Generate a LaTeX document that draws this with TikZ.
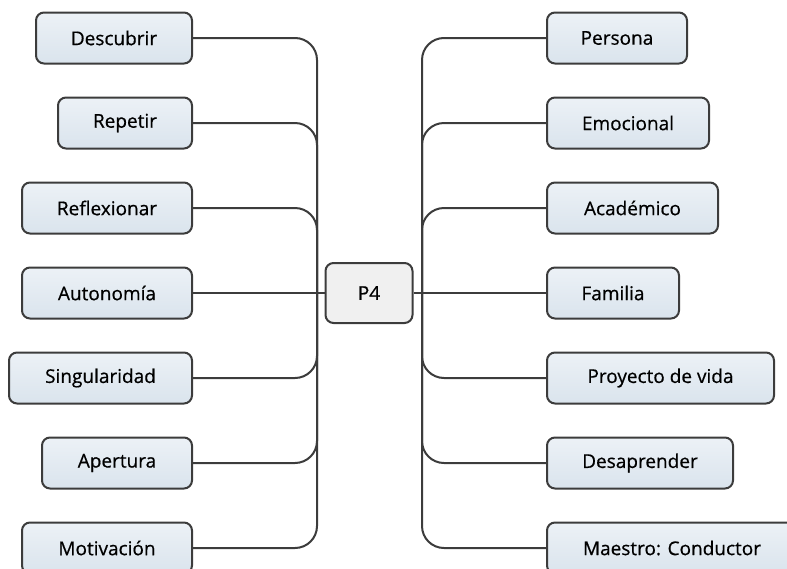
\documentclass[tikz,border=0pt]{standalone}
\usepackage{fontspec}
\setmainfont{Open Sans}
\newfontfamily\leaffont[FakeBold=0.6]{Open Sans}
\definecolor{leaftop}{RGB}{236,241,246}
\definecolor{leafbot}{RGB}{218,228,237}
\definecolor{edgegray}{RGB}{60,60,60}
\newcommand{\shadep}{gray!12}
\tikzset{every path/.style={line width=2pt},
  leaf/.style={draw=edgegray, rounded corners=8pt, top color=leaftop, bottom color=leafbot,
    minimum height=51pt, inner sep=0pt, font=\fontsize{19}{22}\leaffont},
  lleaf/.style={leaf, anchor=east},
  rleaf/.style={leaf, anchor=west},
  branch/.style={draw=edgegray, rounded corners=22pt}}

\begin{document}
\begin{tikzpicture}[x=1pt,y=-1pt]
\useasboundingbox (0,0) rectangle (787,568);
% left side
\node[lleaf, minimum width=156pt] (descubrir) at (193,38) {Descubrir};
\node[lleaf, minimum width=134pt] (repetir) at (193,123) {Repetir};
\node[lleaf, minimum width=170pt] (reflexionar) at (193,208) {Reflexionar};
\node[lleaf, minimum width=170pt] (autonomia) at (193,293) {Autonomía};
\node[lleaf, minimum width=183pt] (singularidad) at (193,378) {Singularidad};
\node[lleaf, minimum width=150pt] (apertura) at (193,463) {Apertura};
\node[lleaf, minimum width=170pt] (motivacion) at (193,548) {Motivación};
% right side
\node[rleaf, minimum width=140pt] (persona) at (546,38) {Persona};
\node[rleaf, minimum width=162pt] (emocional) at (546,123) {Emocional};
\node[rleaf, minimum width=171pt] (academico) at (546,208) {Académico};
\node[rleaf, minimum width=132pt] (familia) at (546,293) {Familia};
\node[rleaf, minimum width=227pt] (proyecto) at (546,378) {Proyecto de vida};
\node[rleaf, minimum width=186pt] (desaprender) at (546,463) {Desaprender};
\node[rleaf, minimum width=250pt] (maestro) at (546,548) {Maestro: Conductor};
% centre
\node[draw=edgegray, rounded corners=8pt, fill=\shadep, minimum width=87pt, minimum height=60pt,
  inner sep=0pt, font=\fontsize{19}{22}\leaffont] (p4) at (369,293) {P4};
\coordinate (lt) at (317,293);
\coordinate (rt) at (422,293);

\draw[branch] (descubrir.east) -| (lt);
\draw[branch] (repetir.east) -| (lt);
\draw[branch] (reflexionar.east) -| (lt);
\draw[branch] (singularidad.east) -| (lt);
\draw[branch] (apertura.east) -| (lt);
\draw[branch] (motivacion.east) -| (lt);
\draw[branch] (autonomia.east) -- (p4.west);

\draw[branch] (persona.west) -| (rt);
\draw[branch] (emocional.west) -| (rt);
\draw[branch] (academico.west) -| (rt);
\draw[branch] (proyecto.west) -| (rt);
\draw[branch] (desaprender.west) -| (rt);
\draw[branch] (maestro.west) -| (rt);
\draw[branch] (p4.east) -- (familia.west);
\end{tikzpicture}
\end{document}
